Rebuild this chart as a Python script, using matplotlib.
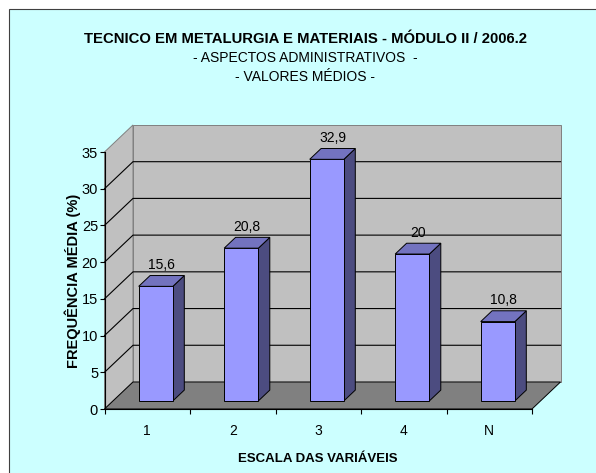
import matplotlib
matplotlib.use("Agg")
import matplotlib.pyplot as plt
from matplotlib.patches import Polygon, Rectangle

# dados
categorias = ["1", "2", "3", "4", "N"]
valores = [15.6, 20.8, 32.9, 20.0, 10.8]
rotulos = ["15,6", "20,8", "32,9", "20", "10,8"]
y_ticks = [0, 5, 10, 15, 20, 25, 30, 35]

titulo = "TECNICO EM METALURGIA E MATERIAIS - MÓDULO II / 2006.2"
subtitulo1 = "- ASPECTOS ADMINISTRATIVOS  -"
subtitulo2 = "- VALORES MÉDIOS -"
x_label = "ESCALA DAS VARIÁVEIS"
y_label = "FREQUÊNCIA MÉDIA (%)"

plt.rcParams["font.family"] = ["Liberation Sans", "DejaVu Sans"]

W, H = 596, 473
YMAX = 35
DX, DY = 1 / 3, 3.68        # profundidade do "3D" em unidades de dados
D0, D1 = 0.3, 0.7           # posição das barras na profundidade
LARG = 0.4

COR_FUNDO = "#CCFFFF"
COR_PAREDE = "#C0C0C0"
COR_PISO = "#808080"
COR_FRENTE = "#9999FF"
COR_TOPO = "#7373BF"
COR_LADO = "#4C4C80"


def P(x, y, d):
    return (x + d * DX, y + d * DY)


def poly(ax, pts, fc, ec="black", lw=0.7, z=1):
    ax.add_patch(Polygon(pts, closed=True, facecolor=fc, edgecolor=ec,
                         linewidth=lw, clip_on=False, zorder=z))


fig = plt.figure(figsize=(W / 100, H / 100), dpi=100)
fig.patch.set_facecolor("white")
fig.add_artist(Rectangle((8.5 / W, -0.05), 1.1, (H - 9.5) / H + 0.05,
                         transform=fig.transFigure, facecolor=COR_FUNDO,
                         edgecolor="#404040", linewidth=0.8, zorder=0))

ax = fig.add_axes([104.5 / W, (H - 409) / H, 427.5 / W, 257 / H])
ax.set_xlim(0, len(categorias))
ax.set_ylim(0, YMAX)
ax.patch.set_alpha(0)
n = len(categorias)

# paredes
poly(ax, [P(0, 0, 0), P(0, YMAX, 0), P(0, YMAX, 1), P(0, 0, 1)], COR_PAREDE, ec="#808080", z=0.5)
poly(ax, [P(0, 0, 1), P(n, 0, 1), P(n, YMAX, 1), P(0, YMAX, 1)], COR_PAREDE, ec="#808080", z=0.5)

# linhas de grade
for v in y_ticks[1:-1]:
    ax.plot(*zip(P(0, v, 0), P(0, v, 1), P(n, v, 1)), color="black", lw=0.8,
            clip_on=False, zorder=0.8)

# piso
poly(ax, [P(0, 0, 0), P(n, 0, 0), P(n, 0, 1), P(0, 0, 1)], COR_PISO, z=1)

# barras
for i, v in enumerate(valores):
    x0, x1 = i + 0.5 - LARG / 2, i + 0.5 + LARG / 2
    poly(ax, [P(x1, 0, D0), P(x1, 0, D1), P(x1, v, D1), P(x1, v, D0)], COR_LADO, z=2)
    poly(ax, [P(x0, 0, D0), P(x1, 0, D0), P(x1, v, D0), P(x0, v, D0)], COR_FRENTE, z=2)
    poly(ax, [P(x0, v, D0), P(x1, v, D0), P(x1, v, D1), P(x0, v, D1)], COR_TOPO, z=2)
    ax.annotate(rotulos[i], xy=P(i + 0.5, v, 0.5), xytext=(0, 12),
                textcoords="offset pixels", ha="center", va="baseline",
                fontsize=10, zorder=4)

# eixos
for s in ["top", "right"]:
    ax.spines[s].set_visible(False)
for s in ["left", "bottom"]:
    ax.spines[s].set_linewidth(0.8)
    ax.spines[s].set_zorder(3)

ax.set_yticks(y_ticks)
ax.set_yticklabels([str(t) for t in y_ticks], fontsize=10.5)
ax.set_xticks(range(n + 1))
ax.set_xticklabels([])
ax.set_xticks([i + 0.5 for i in range(n)], minor=True)
ax.set_xticklabels(categorias, minor=True, fontsize=10)
ax.tick_params(axis="both", which="major", direction="out", length=3.6, width=0.8, pad=1)
ax.tick_params(axis="x", which="minor", length=0, pad=11)

ax.set_xlabel(x_label, fontsize=9.5, fontweight="bold")
ax.xaxis.set_label_coords(0.5, -0.171)
ax.set_ylabel(y_label, fontsize=10.5, fontweight="bold", va="center")
ax.yaxis.set_label_coords(-0.0737, 0.5)

cx = 305 / W
fig.text(cx, 1 - 39 / H, titulo, ha="center", va="center", fontsize=10.7, fontweight="bold")
fig.text(cx, 1 - 58 / H, subtitulo1, ha="center", va="center", fontsize=10)
fig.text(cx, 1 - 77 / H, subtitulo2, ha="center", va="center", fontsize=10)

fig.savefig("out.png", dpi=100)
